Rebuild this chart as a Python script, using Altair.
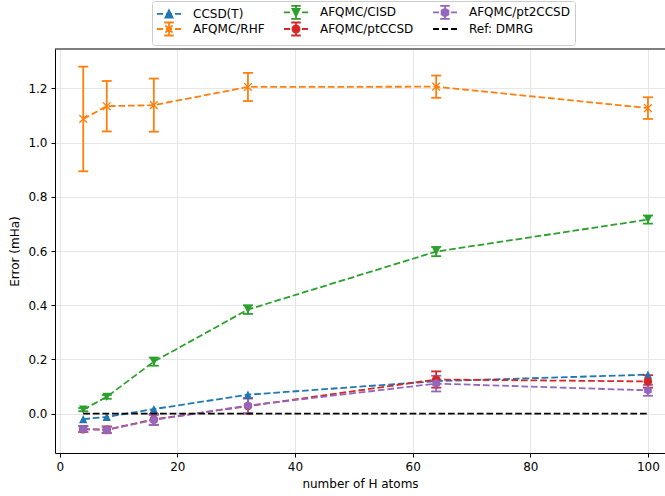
import altair as alt
import pandas as pd

# ---------------- data ----------------
xs = [4, 8, 16, 32, 64, 100]

series_names = ["CCSD(T)", "AFQMC/RHF", "AFQMC/CISD", "AFQMC/ptCCSD", "AFQMC/pt2CCSD", "Ref: DMRG"]
series_colors = ["#1f77b4", "#ff7f0e", "#2ca02c", "#d62728", "#9467bd", "#000000"]

ccsdt = [-0.020, -0.012, 0.017, 0.070, 0.120, 0.144]
rhf = [1.087, 1.134, 1.138, 1.205, 1.206, 1.127]
rhf_err = [0.193, 0.093, 0.098, 0.052, 0.041, 0.040]
cisd = [0.015, 0.062, 0.192, 0.384, 0.598, 0.716]
cisd_err = [0.006, 0.007, 0.015, 0.016, 0.017, 0.015]
ptccsd = [-0.057, -0.059, -0.021, 0.028, 0.126, 0.119]
ptccsd_err = [0.011, 0.012, 0.020, 0.028, 0.030, 0.023]
pt2ccsd = [-0.057, -0.060, -0.023, 0.030, 0.111, 0.086]
pt2ccsd_err = [0.011, 0.012, 0.018, 0.028, 0.029, 0.020]
dmrg = [0.0, 0.0, 0.0, 0.0, 0.0, 0.0]

x_ticks = [0, 20, 40, 60, 80, 100]
y_ticks = [0.0, 0.2, 0.4, 0.6, 0.8, 1.0, 1.2]

# ---------------- tables ----------------
rows = []
for name, vals, errs in [
    ("CCSD(T)", ccsdt, None),
    ("AFQMC/RHF", rhf, rhf_err),
    ("AFQMC/CISD", cisd, cisd_err),
    ("AFQMC/ptCCSD", ptccsd, ptccsd_err),
    ("AFQMC/pt2CCSD", pt2ccsd, pt2ccsd_err),
    ("Ref: DMRG", dmrg, None),
]:
    for i, (x, v) in enumerate(zip(xs, vals)):
        e = errs[i] if errs is not None else None
        rows.append(dict(series=name, x=x, y=v,
                         lo=(v - e) if e is not None else None,
                         hi=(v + e) if e is not None else None))
df = pd.DataFrame(rows)
df_err = df.dropna(subset=["lo"])
legend_df = pd.DataFrame({"series": series_names})

# ---------------- encodings ----------------
XDOM = [-0.8, 102.9]
YDOM = [-0.145, 1.345]
x_axis = alt.Axis(values=x_ticks, format="d", title="number of H atoms", titlePadding=6)
y_axis = alt.Axis(values=y_ticks, format=".1f", title="Error (mHa)", titlePadding=6)


def X(field="x"):
    return alt.X(f"{field}:Q", scale=alt.Scale(domain=XDOM, nice=False, zero=False), axis=x_axis)


def Y(field="y"):
    return alt.Y(f"{field}:Q", scale=alt.Scale(domain=YDOM, nice=False, zero=False), axis=y_axis)


# colour scale for the data marks (listed in reverse so its hidden legend
# is not merged with the visible custom legend below)
color = alt.Color("series:N",
                  scale=alt.Scale(domain=series_names[::-1], range=series_colors[::-1]),
                  legend=None)

DASH = [6.7, 2.9]
LW = 1.8

base = alt.Chart(df)

lines = base.transform_filter(alt.datum.series != "Ref: DMRG").mark_line(
    strokeDash=DASH, strokeWidth=LW
).encode(x=X(), y=Y(), color=color, order="x:Q")

err_base = alt.Chart(df_err)
err_rules = err_base.mark_rule(strokeWidth=LW).encode(
    x=X(), y=Y("lo"), y2="hi:Q", color=color
)
cap_lo = err_base.mark_tick(orient="horizontal", size=10, thickness=LW, opacity=1).encode(
    x=X(), y=Y("lo"), color=color
)
cap_hi = err_base.mark_tick(orient="horizontal", size=10, thickness=LW, opacity=1).encode(
    x=X(), y=Y("hi"), color=color
)

TRI_UP = "M0,-1L-1,1L1,1Z"
TRI_DOWN = "M0,1L-1,-1L1,-1Z"
XMARK = "M-1,-1L1,1M-1,1L1,-1"
HEX = "M0,-1L-0.866,-0.5L-0.866,0.5L0,1L0.866,0.5L0.866,-0.5Z"

marker_specs = [
    ("CCSD(T)", TRI_UP, True, 70),
    ("AFQMC/RHF", XMARK, False, 60),
    ("AFQMC/CISD", TRI_DOWN, True, 70),
    ("AFQMC/ptCCSD", "circle", True, 72),
    ("AFQMC/pt2CCSD", HEX, True, 80),
]
point_layers = []
for name, shp, filled, sz in marker_specs:
    point_layers.append(
        base.transform_filter(alt.datum.series == name).mark_point(
            shape=shp, filled=filled, size=sz, opacity=1, strokeWidth=1.3
        ).encode(x=X(), y=Y(), color=color)
    )

dmrg_line = base.transform_filter(alt.datum.series == "Ref: DMRG").mark_line(
    strokeDash=DASH, strokeWidth=LW
).encode(x=X(), y=Y(), color=color)

top_spine = alt.Chart(pd.DataFrame({"k": [0]})).mark_rule(color="black", strokeWidth=1).encode(
    y=alt.value(0)
)

# ---------------- legend (custom symbols: dashed line + marker + errorbar) ----------------
D = "M-2.4,0L-1.2,0M-0.6,0L0.6,0M1.2,0L2.4,0"
EB = "M0,-1.3L0,1.3M-0.96,-1.3L0.96,-1.3M-0.96,1.3L0.96,1.3"
m = 0.72
LEG_TRI_UP = f"M0,{-m}L{-m},{m}L{m},{m}Z"
LEG_TRI_DOWN = f"M0,{m}L{-m},{-m}L{m},{-m}Z"
LEG_X = f"M{-m},{-m}L{m},{m}M{-m},{m}L{m},{-m}"
LEG_CIRC = f"M{m},0A{m},{m} 0 1,1 {-m},0A{m},{m} 0 1,1 {m},0Z"
h = 0.78
LEG_HEX = f"M0,{-h}L{-0.866*h:.3f},{-0.5*h:.3f}L{-0.866*h:.3f},{0.5*h:.3f}L0,{h}L{0.866*h:.3f},{0.5*h:.3f}L{0.866*h:.3f},{-0.5*h:.3f}Z"

legend_paths = {
    "CCSD(T)": D + LEG_TRI_UP,
    "AFQMC/RHF": D + EB + LEG_X,
    "AFQMC/CISD": D + EB + LEG_TRI_DOWN,
    "AFQMC/ptCCSD": D + EB + LEG_CIRC,
    "AFQMC/pt2CCSD": D + EB + LEG_HEX,
    "Ref: DMRG": D,
}
leg_shapes = [legend_paths[s] for s in series_names]


def make_legend():
    return alt.Legend(
        title=None, orient="none", legendX=97, legendY=-48, columns=3,
        symbolSize=100, symbolStrokeWidth=LW, symbolOpacity=1, symbolOffset=6,
        labelOffset=18, labelAlign="left", labelFontSize=12, labelFont="DejaVu Sans",
        labelColor="black", labelLimit=0,
        columnPadding=15, rowPadding=-6, padding=5,
        strokeColor="#cccccc", fillColor="rgba(255,255,255,0.8)", cornerRadius=3,
    )


legend_layer = alt.Chart(legend_df).mark_point(opacity=0).encode(
    fill=alt.Fill("series:N", scale=alt.Scale(domain=series_names, range=series_colors), legend=make_legend()),
    stroke=alt.Stroke("series:N", scale=alt.Scale(domain=series_names, range=series_colors), legend=make_legend()),
    shape=alt.Shape("series:N", scale=alt.Scale(domain=series_names, range=leg_shapes), legend=make_legend()),
)

chart = alt.layer(
    lines, err_rules, cap_lo, cap_hi, *point_layers, dmrg_line, top_spine, legend_layer
).properties(
    width=610, height=404,
    padding={"left": 55, "top": 49, "right": 0, "bottom": 43},
    autosize=alt.AutoSizeParams(type="none"),
).configure_view(stroke=None).configure_axis(
    labelFont="DejaVu Sans", labelFontSize=12, labelColor="black",
    titleFont="DejaVu Sans", titleFontSize=12, titleFontWeight="normal", titleColor="black",
    domainColor="black", domainWidth=1, tickColor="black", tickWidth=1, tickSize=4,
    labelPadding=4, gridColor="#e6e6e6", gridWidth=1,
)

chart.save("out.html", embed_options={"renderer": "svg", "actions": False})
